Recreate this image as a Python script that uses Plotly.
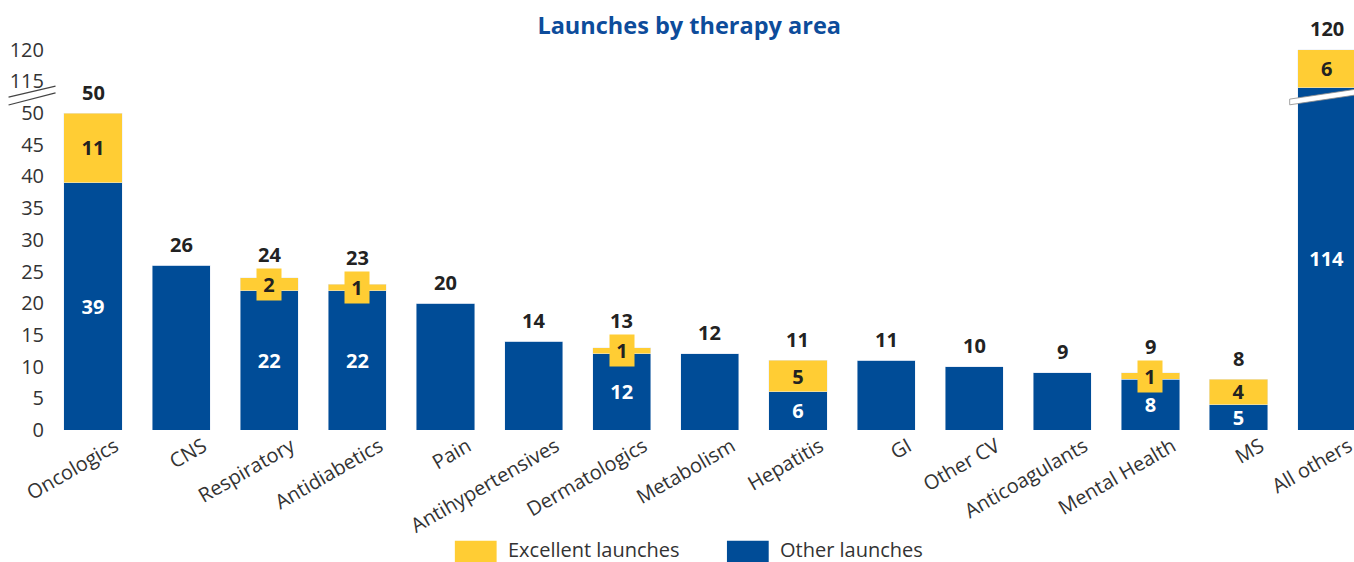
import plotly.graph_objects as go

categories = ["Oncologics", "CNS", "Respiratory", "Antidiabetics", "Pain",
              "Antihypertensives", "Dermatologics", "Metabolism", "Hepatitis",
              "GI", "Other CV", "Anticoagulants", "Mental Health", "MS", "All others"]
# MS blue bar is drawn ~4 high in the source even though it is labelled 5
other_launches = [39, 26, 22, 22, 20, 14, 12, 12, 6, 11, 10, 9, 8, 4, 114]
other_labels = ["39", "", "22", "22", "", "", "12", "", "6", "", "", "", "8", "5", "114"]
excellent_launches = [11, 0, 2, 1, 0, 0, 1, 0, 5, 0, 0, 0, 1, 4, 6]
excellent_labels = ["11", "", "", "", "", "", "", "", "5", "", "", "", "", "4", "6"]
totals = [50, 26, 24, 23, 20, 14, 13, 12, 11, 11, 10, 9, 9, 8, 120]

tick_vals = [0, 5, 10, 15, 20, 25, 30, 35, 40, 45, 50, 115, 120]

YELLOW = "#FFCD34"
BLUE = "#004C97"
TEXT = "#333333"
FONT = "Open Sans"

# broken axis: everything above 50 is pulled down by 60 (115 -> 55, 120 -> 60)
def to_axis(v):
    return v if v <= 50 else v - 60

other_y = [to_axis(v) for v in other_launches]
excellent_y = [to_axis(o + e) - to_axis(o) for o, e in zip(other_launches, excellent_launches)]

fig = go.Figure()
fig.add_trace(go.Bar(
    x=categories, y=other_y, name="Other launches", marker_color=BLUE,
    text=other_labels, textposition="inside", insidetextanchor="middle", textangle=0,
    textfont=dict(color="white", size=20, family=FONT, weight="bold"),
    hoverinfo="skip",
))
fig.add_trace(go.Bar(
    x=categories, y=excellent_y, name="Excellent launches", marker_color=YELLOW,
    text=excellent_labels, textposition="inside", insidetextanchor="middle", textangle=0,
    textfont=dict(color="#222222", size=20, family=FONT, weight="bold"),
    hoverinfo="skip",
))

annotations = []
for cat, o, e, t in zip(categories, other_launches, excellent_launches, totals):
    if 0 < e <= 2:
        # thin yellow slices get their label on a yellow tab, total sits above the tab
        mid = to_axis(o) + e / 2
        annotations.append(dict(
            x=cat, y=mid, text=str(e), showarrow=False,
            bgcolor=YELLOW, width=24, height=31, borderpad=0,
            font=dict(size=20, color="#222222", family=FONT, weight="bold"),
        ))
        annotations.append(dict(
            x=cat, y=mid, text=str(t), showarrow=False, yshift=30,
            font=dict(size=20, color="#222222", family=FONT, weight="bold"),
        ))
    else:
        annotations.append(dict(
            x=cat, y=to_axis(o + e), text=str(t), showarrow=False, yshift=21,
            font=dict(size=20, color="#222222", family=FONT, weight="bold"),
        ))

# custom legend
legend_items = [("Excellent launches", YELLOW, 0.311), ("Other launches", BLUE, 0.5195)]
shapes = []
for label, color, x0 in legend_items:
    shapes.append(dict(type="rect", xref="paper", yref="paper",
                       x0=x0, x1=x0 + 0.032, y0=-0.336, y1=-0.282,
                       fillcolor=color, line_width=0))
    annotations.append(dict(xref="paper", yref="paper", x=x0 + 0.039, y=-0.303,
                            xanchor="left", yanchor="middle", text=label, showarrow=False,
                            font=dict(size=20, color=TEXT, family=FONT)))

# axis break marks
for y0, y1 in [(0.847, 0.875), (0.827, 0.858)]:
    shapes.append(dict(type="line", xref="paper", yref="paper",
                       x0=-0.031, x1=0.005, y0=y0, y1=y1,
                       line=dict(color="#444444", width=1.2)))
last = len(categories) - 1
shapes.append(dict(type="path", xref="x", yref="y",
                   path=f"M {last - 0.42} 51.3 L {last + 0.4} 53.0 L {last + 0.4} 53.9 L {last - 0.42} 52.2 Z",
                   fillcolor="white", line=dict(color="#8a8a8a", width=0.8)))

fig.update_layout(
    width=1354, height=562,
    barmode="stack", bargap=0.34,
    plot_bgcolor="white", paper_bgcolor="white",
    margin=dict(l=49, r=0, t=37, b=132, autoexpand=False),
    showlegend=False,
    title=dict(text="<b>Launches by therapy area</b>", x=0.509, xanchor="center",
               y=0.955, yanchor="middle",
               font=dict(size=23.5, color="#0D4C9B", family=FONT)),
    font=dict(family=FONT, color=TEXT),
    uniformtext=dict(minsize=20, mode="show"),
    annotations=annotations,
    shapes=shapes,
)
fig.update_xaxes(range=[-0.5, 14.31], tickangle=-30, ticklabelshift=22, ticks="",
                 showline=False, showgrid=False, automargin=False,
                 tickfont=dict(size=20, color=TEXT, family=FONT))
fig.update_yaxes(range=[0, 62], tickvals=[to_axis(v) for v in tick_vals],
                 ticktext=[str(v) for v in tick_vals], showgrid=False, zeroline=False,
                 showline=False, ticks="", ticklabelstandoff=4, automargin=False,
                 tickfont=dict(size=20, color=TEXT, family=FONT))

# page body has a default 8px margin; drop it so the figure sits at the window corner
fig.write_html("out.html", config={"displayModeBar": False},
               post_script="document.body.style.margin='0';")
